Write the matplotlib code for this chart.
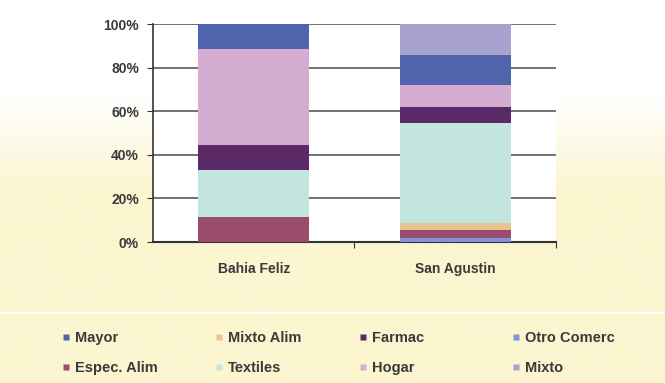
import numpy as np
import matplotlib
matplotlib.use('Agg')
import matplotlib.pyplot as plt
from matplotlib.lines import Line2D
from matplotlib.colors import LinearSegmentedColormap

plt.rcParams['font.family'] = ['Liberation Sans Narrow', 'Liberation Sans', 'DejaVu Sans']

# Share of establishments by type (%), per zone
zones = ['Bahia Feliz', 'San Agustin']
otro_comerc = [0.0, 1.7]
espec_alim = [11.7, 4.0]
mixto_alim = [0.0, 3.1]
textiles = [21.5, 45.7]
farmac = [11.4, 7.3]
hogar = [43.9, 10.4]
mayor = [11.5, 13.6]
mixto = [0.0, 14.2]

colors = {
    'Mayor': '#5064ad',
    'Espec. Alim': '#9a4c6c',
    'Mixto Alim': '#e9c48e',
    'Textiles': '#c3e5df',
    'Farmac': '#5b2868',
    'Hogar': '#d5add0',
    'Otro Comerc': '#8193d6',
    'Mixto': '#a8a2d1',
}

# bottom -> top
stack = [('Otro Comerc', otro_comerc), ('Espec. Alim', espec_alim),
         ('Mixto Alim', mixto_alim), ('Textiles', textiles),
         ('Farmac', farmac), ('Hogar', hogar),
         ('Mayor', mayor), ('Mixto', mixto)]
# legend columns, two entries each
legend_cols = [['Mayor', 'Espec. Alim'], ['Mixto Alim', 'Textiles'],
               ['Farmac', 'Hogar'], ['Otro Comerc', 'Mixto']]

fig = plt.figure(figsize=(6.65, 3.83), dpi=100)

# pale yellow backdrop fading in from the top
bg = fig.add_axes([0, 0, 1, 1], zorder=-10)
grad = np.clip((np.linspace(0, 1, 200) - 0.25) / 0.25, 0, 1)[:, None]
cmap = LinearSegmentedColormap.from_list('bg', ['#ffffff', '#fbf5d0'])
bg.imshow(grad, aspect='auto', cmap=cmap, extent=[0, 1, 0, 1],
          origin='upper', vmin=0, vmax=1)
bg.axhline(1 - 313 / 383, color='white', lw=1.5)
bg.set_xlim(0, 1)
bg.set_ylim(0, 1)
bg.axis('off')

ax = fig.add_axes([0.230, 0.368, 0.606, 0.569])
ax.set_facecolor('white')
x = np.arange(len(zones))
bottom = np.zeros(len(zones))
for name, vals in stack:
    ax.bar(x, vals, width=0.55, bottom=bottom, color=colors[name],
           edgecolor='none', zorder=3)
    bottom += np.array(vals)

ax.set_xlim(-0.5, 1.5)
ax.set_ylim(0, 100)
ax.set_yticks(range(0, 101, 20))
ax.set_yticklabels([f'{v}%' for v in range(0, 101, 20)],
                   fontsize=10, fontweight='bold', color='#3a3a3a')
ax.yaxis.grid(True, color='#5a5a5a', lw=1.2, zorder=1)
ax.set_xticks([0.5, 1.5])
ax.set_xticklabels([])
ax.tick_params(axis='x', length=4, color='#333333')
ax.tick_params(axis='y', length=4, color='#333333', pad=6)
for i, z in enumerate(zones):
    ax.text(i, -9, z, ha='center', va='top', fontsize=10,
            fontweight='bold', color='#3a3a3a')
for s in ['top', 'right']:
    ax.spines[s].set_visible(False)
ax.spines['left'].set_color('#333333')
ax.spines['bottom'].set_color('#333333')
ax.spines['left'].set_linewidth(1.2)
ax.spines['bottom'].set_linewidth(1.5)

col_x = [0.093, 0.323, 0.539, 0.769]
for cx, names in zip(col_x, legend_cols):
    handles = [Line2D([], [], ls='none', marker='s', markersize=5,
                      markerfacecolor=colors[n], markeredgecolor='none')
               for n in names]
    fig.legend(handles, names, loc='upper left',
               bbox_to_anchor=(cx, 1 - 331 / 383), borderaxespad=0,
               borderpad=0, frameon=False, handlelength=0.6,
               handletextpad=0.3, labelspacing=1.1,
               prop={'size': 10.5, 'weight': 'bold'},
               labelcolor='#3a3a3a')

fig.savefig('out.png', dpi=100)
